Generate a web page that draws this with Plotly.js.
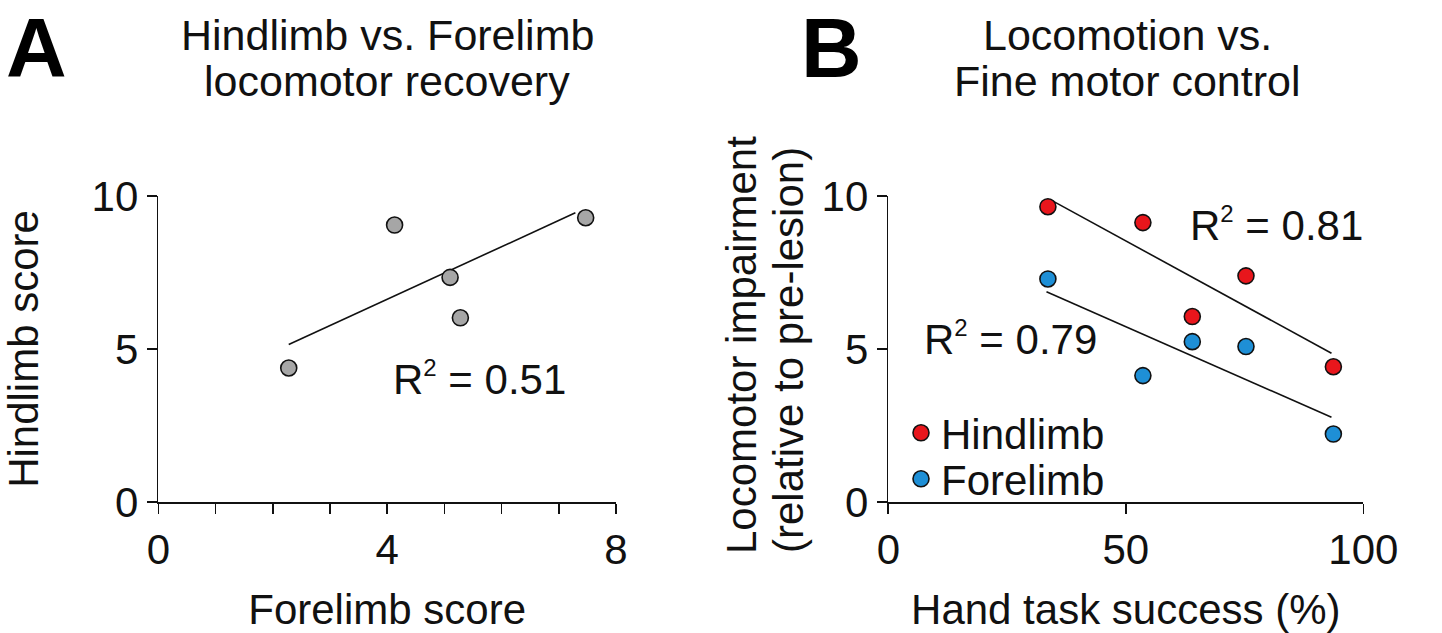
<!DOCTYPE html>
<html>
<head>
<meta charset="utf-8">
<script src="https://cdn.plot.ly/plotly-3.0.1.min.js"></script>
<style>html,body{margin:0;padding:0;background:#fff;}#chart{width:1442px;height:633px;}</style>
</head>
<body>
<div id="chart"></div>
<script>
// Panel A: Forelimb vs Hindlimb score
const forelimbScoreA = [2.28, 4.13, 5.10, 5.28, 7.47];
const hindlimbScoreA = [4.38, 9.05, 7.34, 6.02, 9.29];
const fitA_x = [2.28, 7.29];
const fitA_y = [5.15, 9.45];
const r2A = "0.51";

// Panel B: Hand task success vs locomotor impairment
const handSuccess = [33.6, 53.6, 64.0, 75.3, 93.7];
const hindImpair = [9.65, 9.13, 6.06, 7.39, 4.42];
const foreImpair = [7.29, 4.13, 5.24, 5.08, 2.22];
const fitHind_x = [34.0, 93.3];
const fitHind_y = [9.89, 4.86];
const fitFore_x = [33.3, 93.3];
const fitFore_y = [6.87, 2.77];
const r2Hind = "0.81";
const r2Fore = "0.79";

// tick labels
const xTickValsA = [0, 4, 8];
const xTickTextA = ["0", "4", "8"];
const xMinorTickValsA = [1, 2, 3, 5, 6, 7];
const yTickVals = [0, 5, 10];
const yTickText = ["0", "5", "10"];
const xTickValsB = [0, 50, 100];
const xTickTextB = ["0", "50", "100"];

// texts
const titleA = ["Hindlimb vs. Forelimb", "locomotor recovery"];
const titleB = ["Locomotion vs.", "Fine motor control"];
const yTitleB = ["Locomotor impairment", "(relative to pre-lesion)"];

const FONT = "Liberation Sans, Arial, Helvetica, sans-serif";
const FS = 42;
const RED = "#e8161c";
const BLUE = "#1e8fd6";
const GRAY = "#a6a6a6";
const INK = "#111";

const mk = (c) => ({size: 16, color: c, line: {color: INK, width: 1.6}});

const traces = [
  {x: fitA_x, y: fitA_y, mode: "lines", line: {color: INK, width: 1.6}, xaxis: "x", yaxis: "y", showlegend: false, hoverinfo: "skip"},
  {x: forelimbScoreA, y: hindlimbScoreA, mode: "markers", xaxis: "x", yaxis: "y", showlegend: false, cliponaxis: false, marker: mk(GRAY)},
  {x: fitHind_x, y: fitHind_y, mode: "lines", line: {color: INK, width: 1.6}, xaxis: "x2", yaxis: "y2", showlegend: false, hoverinfo: "skip"},
  {x: fitFore_x, y: fitFore_y, mode: "lines", line: {color: INK, width: 1.6}, xaxis: "x2", yaxis: "y2", showlegend: false, hoverinfo: "skip"},
  {x: handSuccess, y: hindImpair, name: "Hindlimb", mode: "markers", xaxis: "x2", yaxis: "y2", cliponaxis: false, marker: mk(RED), legend: "legend"},
  {x: handSuccess, y: foreImpair, name: "Forelimb", mode: "markers", xaxis: "x2", yaxis: "y2", cliponaxis: false, marker: mk(BLUE), legend: "legend2"}
];

const axisCommon = {
  showgrid: false, zeroline: false, showline: true, linecolor: INK, linewidth: 1.6,
  ticks: "outside", ticklen: 10, tickwidth: 1.6, tickcolor: INK,
  tickfont: {family: FONT, size: FS, color: INK}, fixedrange: true
};

const yDom = [131/633, 437/633];
const legendCommon = {xanchor: "left", yanchor: "top", bgcolor: "rgba(0,0,0,0)",
  font: {family: FONT, size: FS, color: INK}, itemwidth: 30, tracegroupgap: 0};

const txt = (text, x, y, extra) => Object.assign({text: text, xref: "paper", yref: "paper", x: x/1442, y: 1 - y/633,
  xanchor: "center", yanchor: "middle", showarrow: false, font: {family: FONT, size: FS, color: INK}}, extra || {});

const r2 = (val) => "R<sup><span style='font-size:24px'>2</span></sup> = " + val;

const layout = {
  width: 1442, height: 633,
  margin: {l: 0, r: 0, t: 0, b: 0},
  paper_bgcolor: "#fff", plot_bgcolor: "rgba(0,0,0,0)",
  font: {family: FONT, size: FS, color: INK},
  showlegend: true,
  legend: Object.assign({x: 901/1442, y: 1 - 399/633}, legendCommon),
  legend2: Object.assign({x: 901/1442, y: 1 - 445/633}, legendCommon),
  xaxis: Object.assign({}, axisCommon, {domain: [158.3/1442, 616/1442], range: [0, 8], anchor: "y",
           tickmode: "array", tickvals: xTickValsA, ticktext: xTickTextA,
           minor: {tickmode: "array", tickvals: xMinorTickValsA, ticks: "outside", ticklen: 10, tickwidth: 1.6, tickcolor: INK, showgrid: false},
           title: {text: "Forelimb score", font: {family: FONT, size: FS, color: INK}}}),
  yaxis: Object.assign({}, axisCommon, {domain: yDom, range: [0, 10], anchor: "x",
           tickmode: "array", tickvals: yTickVals, ticktext: yTickText,
           title: {text: "Hindlimb score", font: {family: FONT, size: FS, color: INK}, standoff: 63}}),
  xaxis2: Object.assign({}, axisCommon, {domain: [888.3/1442, 1363.3/1442], range: [0, 100], anchor: "y2",
           tickmode: "array", tickvals: xTickValsB, ticktext: xTickTextB,
           title: {text: "Hand task success (%)", font: {family: FONT, size: FS, color: INK}}}),
  yaxis2: Object.assign({}, axisCommon, {domain: yDom, range: [0, 10], anchor: "x2",
           tickmode: "array", tickvals: yTickVals, ticktext: yTickText}),
  annotations: [
    txt("<b>A</b>", 36, 48, {font: {family: FONT, size: 84, color: "#000"}}),
    txt("<b>B</b>", 831, 48, {font: {family: FONT, size: 84, color: "#000"}}),
    txt(titleA[0], 387, 35, {font: {family: FONT, size: 43, color: INK}}),
    txt(titleA[1], 387, 81, {font: {family: FONT, size: 43, color: INK}}),
    txt(titleB[0], 1127, 35, {font: {family: FONT, size: 43, color: INK}}),
    txt(titleB[1], 1127, 81, {font: {family: FONT, size: 43, color: INK}}),
    txt(yTitleB[0], 741, 345, {textangle: -90}),
    txt(yTitleB[1], 788, 350, {textangle: -90}),
    {text: r2(r2A), xref: "x", yref: "y", x: 4.07, y: 4.05, xanchor: "left", yanchor: "middle",
     showarrow: false, font: {family: FONT, size: FS, color: INK}},
    {text: r2(r2Hind), xref: "x2", yref: "y2", x: 63.0, y: 9.07, xanchor: "left", yanchor: "middle",
     showarrow: false, font: {family: FONT, size: FS, color: INK}},
    {text: r2(r2Fore), xref: "x2", yref: "y2", x: 7.2, y: 5.34, xanchor: "left", yanchor: "middle",
     showarrow: false, font: {family: FONT, size: FS, color: INK}}
  ]
};

Plotly.newPlot("chart", traces, layout, {staticPlot: true, displayModeBar: false});
</script>
</body>
</html>
